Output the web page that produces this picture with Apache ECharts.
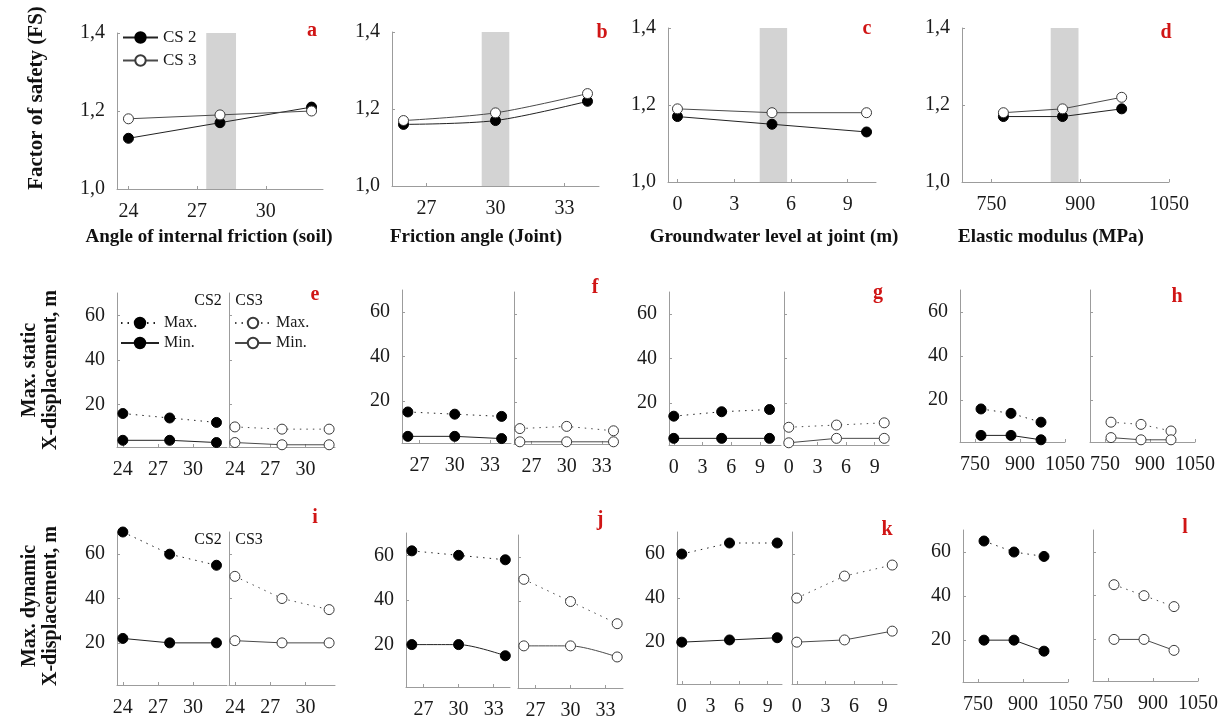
<!DOCTYPE html>
<html><head><meta charset="utf-8">
<script src="https://cdn.jsdelivr.net/npm/echarts@6/dist/echarts.min.js"></script>
<style>html,body{margin:0;padding:0;background:#fff}#c{width:1228px;height:719px}</style>
</head><body><div id="c"></div>
<script>
// ---------- data ----------
const xSoil = [24, 28, 32];
const xJoint = [26, 30, 34];
const xGw = [0, 5, 10];
const xMod = [770, 870, 970];

const ticksSoil = [24, 27, 30];
const ticksJoint = [27, 30, 33];
const ticksGw = [0, 3, 6, 9];
const ticksMod = [750, 900, 1050];
const fsTicks = [1.0, 1.2, 1.4];
const dispTicks = [20, 40, 60];

const bandSoil = [27.4, 28.7];
const bandJoint = [29.4, 30.6];
const bandGw = [4.35, 5.8];
const bandMod = [850, 897];

const fsSoilCS2 = [1.13, 1.17, 1.21];
const fsSoilCS3 = [1.18, 1.19, 1.20];
const fsJointCS2 = [1.16, 1.17, 1.22];
const fsJointCS3 = [1.17, 1.19, 1.24];
const fsGwCS2 = [1.17, 1.15, 1.13];
const fsGwCS3 = [1.19, 1.18, 1.18];
const fsModCS2 = [1.17, 1.17, 1.19];
const fsModCS3 = [1.18, 1.19, 1.22];

const stSoilCS2Max = [16, 14, 12];
const stSoilCS2Min = [4, 4, 3];
const stSoilCS3Max = [10, 9, 9];
const stSoilCS3Min = [3, 2, 2];
const stJointCS2Max = [15, 14, 13];
const stJointCS2Min = [4, 4, 3];
const stJointCS3Max = [8, 9, 7];
const stJointCS3Min = [2, 2, 2];
const stGwCS2Max = [14, 16, 17];
const stGwCS2Min = [4, 4, 4];
const stGwCS3Max = [9, 10, 11];
const stGwCS3Min = [2, 4, 4];
const stModCS2Max = [16, 14, 10];
const stModCS2Min = [4, 4, 2];
const stModCS3Max = [10, 9, 6];
const stModCS3Min = [3, 2, 2];

const dySoilCS2Max = [70, 60, 55];
const dySoilCS2Min = [22, 20, 20];
const dySoilCS3Max = [50, 40, 35];
const dySoilCS3Min = [21, 20, 20];
const dyJointCS2Max = [62, 60, 58];
const dyJointCS2Min = [20, 20, 15];
const dyJointCS3Max = [50, 40, 30];
const dyJointCS3Min = [20, 20, 15];
const dyGwCS2Max = [60, 65, 65];
const dyGwCS2Min = [20, 21, 22];
const dyGwCS3Max = [40, 50, 55];
const dyGwCS3Min = [20, 21, 25];
const dyModCS2Max = [65, 60, 58];
const dyModCS2Min = [20, 20, 15];
const dyModCS3Max = [45, 40, 35];
const dyModCS3Min = [20, 20, 15];

// ---------- layout ----------
const FONT = '"Liberation Serif","Times New Roman",serif';
const AXC = '#9c9c9c';
const RED = '#d01515';
const grids = [], xAxes = [], yAxes = [], series = [], legends = [], texts = [];

function addGrid(box, xr, xticks, yr, yticks, yfmt, showY) {
  const i = grids.length;
  grids.push({left: box[0], top: box[1], width: box[2], height: box[3], containLabel: false, outerBoundsMode: 'none'});
  xAxes.push({type: 'value', gridIndex: i, min: xr[0], max: xr[1],
    axisLine: {show: true, onZero: false, lineStyle: {color: AXC, width: 1}},
    axisTick: {show: true, inside: true, length: 3, customValues: xticks, lineStyle: {color: AXC}},
    axisLabel: {customValues: xticks, formatter: v => String(v), color: '#1a1a1a', fontFamily: FONT, fontSize: 20, margin: 13},
    splitLine: {show: false}});
  yAxes.push({type: 'value', gridIndex: i, min: yr[0], max: yr[1],
    axisLine: {show: true, onZero: false, lineStyle: {color: AXC, width: 1}},
    axisTick: {show: true, inside: true, length: 3, customValues: yticks, lineStyle: {color: AXC}},
    axisLabel: {show: showY, customValues: yticks, formatter: yfmt || (v => String(v)), color: '#1a1a1a', fontFamily: FONT, fontSize: 20, margin: 12},
    splitLine: {show: false}});
  return i;
}

function addLine(gi, name, xs, ys, filled, dotted, smooth) {
  series.push({type: 'line', name: name, xAxisIndex: gi, yAxisIndex: gi,
    data: xs.map((x, k) => [x, ys[k]]),
    symbol: 'circle', symbolSize: 10, showSymbol: true, smooth: smooth ? 0.3 : false, clip: false,
    lineStyle: {color: filled ? '#222' : '#4a4a4a', width: 1, type: dotted ? [1.5, 5] : 'solid'},
    itemStyle: {color: filled ? '#000' : '#fff', borderColor: filled ? '#000' : '#3a3a3a', borderWidth: 1},
    emphasis: {disabled: true}, z: filled ? 3 : 4, animation: false});
}

function addBand(gi, band, yr) {
  series.push({type: 'line', name: 'band' + gi, xAxisIndex: gi, yAxisIndex: gi, data: [], z: 1, animation: false,
    markArea: {silent: true, itemStyle: {color: '#d3d3d3'},
      data: [[{coord: [band[0], yr[0]]}, {coord: [band[1], yr[1]]}]]}});
}

function addText(x, y, text, opts) {
  texts.push(Object.assign({type: 'text', x: x, y: y, silent: true,
    style: Object.assign({text: text, fill: '#111', fontFamily: FONT, fontSize: 17, fontWeight: 'bold',
      align: 'center', verticalAlign: 'middle', textAlign: 'center', textVerticalAlign: 'middle'}, opts.style || {})},
    opts.rotation !== undefined ? {rotation: opts.rotation} : {}));
}

const fsFmt = v => v.toFixed(1).replace('.', ',');
const FSR = [1.0, 1.4];

// Row 1: factor of safety
const fsPanels = [
  {L: 'a', box: [117, 33, 206, 156], xr: [23.5, 32.5], xs: xSoil, ticks: ticksSoil, band: bandSoil, c2: fsSoilCS2, c3: fsSoilCS3, title: 'Angle of internal friction (soil)', tx: 209, lx: 312, ly: 31},
  {L: 'b', box: [392, 32, 207, 154], xr: [25.5, 34.5], xs: xJoint, ticks: ticksJoint, band: bandJoint, c2: fsJointCS2, c3: fsJointCS3, title: 'Friction angle (Joint)', tx: 476, lx: 602, ly: 33, smooth: true},
  {L: 'c', box: [668, 28, 208, 154], xr: [-0.5, 10.5], xs: xGw, ticks: ticksGw, band: bandGw, c2: fsGwCS2, c3: fsGwCS3, title: 'Groundwater level at joint (m)', tx: 774, lx: 867, ly: 29},
  {L: 'd', box: [962, 28, 207, 154], xr: [700, 1050], xs: xMod, ticks: ticksMod, band: bandMod, c2: fsModCS2, c3: fsModCS3, title: 'Elastic modulus (MPa)', tx: 1051, lx: 1166, ly: 33}
];
fsPanels.forEach((p, k) => {
  const gi = addGrid(p.box, p.xr, p.ticks, FSR, fsTicks, fsFmt, true);
  addBand(gi, p.band, FSR);
  addLine(gi, k === 0 ? 'CS 2' : p.L + ' CS 2', p.xs, p.c2, true, false, p.smooth);
  addLine(gi, k === 0 ? 'CS 3' : p.L + ' CS 3', p.xs, p.c3, false, false, p.smooth);
  addText(p.tx, 237, p.title, {style: {fontSize: 19}});
  addText(p.lx, p.ly, p.L, {style: {fill: RED, fontSize: 20}});
});

// Rows 2 & 3: displacements
const DR = [1, 70];
const dispPanels = [
  {L: 'e', b1: [117, 293, 110, 154], r1: [23.5, 32.9], b2: [229, 293, 106, 154], r2: [23.5, 32.5], xs: xSoil, ticks: ticksSoil, a: stSoilCS2Max, b: stSoilCS2Min, c: stSoilCS3Max, d: stSoilCS3Min, lx: 315, ly: 295},
  {L: 'f', b1: [402, 290, 109, 153], r1: [25.5, 34.8], b2: [514, 292, 103, 152], r2: [25.5, 34.3], xs: xJoint, ticks: ticksJoint, a: stJointCS2Max, b: stJointCS2Min, c: stJointCS3Max, d: stJointCS3Min, lx: 595, ly: 288},
  {L: 'g', b1: [669, 292, 112, 153], r1: [-0.5, 11.2], b2: [784, 292, 105, 153], r2: [-0.5, 10.5], xs: xGw, ticks: ticksGw, a: stGwCS2Max, b: stGwCS2Min, c: stGwCS3Max, d: stGwCS3Min, lx: 878, ly: 293},
  {L: 'h', b1: [960, 290, 105, 152], r1: [700, 1050], b2: [1090, 290, 105, 152], r2: [700, 1050], xs: xMod, ticks: ticksMod, a: stModCS2Max, b: stModCS2Min, c: stModCS3Max, d: stModCS3Min, lx: 1177, ly: 297},
  {L: 'i', b1: [117, 532, 110, 153], r1: [23.5, 32.9], b2: [229, 532, 106, 153], r2: [23.5, 32.5], xs: xSoil, ticks: ticksSoil, a: dySoilCS2Max, b: dySoilCS2Min, c: dySoilCS3Max, d: dySoilCS3Min, lx: 315, ly: 518},
  {L: 'j', b1: [406, 533, 104, 154], r1: [25.5, 34.4], b2: [518, 535, 105, 153], r2: [25.5, 34.5], xs: xJoint, ticks: ticksJoint, a: dyJointCS2Max, b: dyJointCS2Min, c: dyJointCS3Max, d: dyJointCS3Min, lx: 600, ly: 520, smooth: true},
  {L: 'k', b1: [677, 532, 105, 152], r1: [-0.5, 10.5], b2: [792, 532, 105, 152], r2: [-0.5, 10.5], xs: xGw, ticks: ticksGw, a: dyGwCS2Max, b: dyGwCS2Min, c: dyGwCS3Max, d: dyGwCS3Min, lx: 887, ly: 530},
  {L: 'l', b1: [963, 530, 105, 152], r1: [700, 1050], b2: [1093, 530, 105, 151], r2: [700, 1050], xs: xMod, ticks: ticksMod, a: dyModCS2Max, b: dyModCS2Min, c: dyModCS3Max, d: dyModCS3Min, lx: 1185, ly: 528}
];
dispPanels.forEach(p => {
  const g1 = addGrid(p.b1, p.r1, p.ticks, DR, dispTicks, null, true);
  addLine(g1, p.L + ' CS2 Max.', p.xs, p.a, true, true, p.smooth);
  addLine(g1, p.L + ' CS2 Min.', p.xs, p.b, true, false, p.smooth);
  const g2 = addGrid(p.b2, p.r2, p.ticks, DR, dispTicks, null, false);
  addLine(g2, p.L + ' CS3 Max.', p.xs, p.c, false, true, p.smooth);
  addLine(g2, p.L + ' CS3 Min.', p.xs, p.d, false, false, p.smooth);
  addText(p.lx, p.ly, p.L, {style: {fill: RED, fontSize: 20}});
});

// CS labels in e and i
[301, 540].forEach(y => {
  addText(208, y, 'CS2', {style: {fontWeight: 'normal', fontSize: 16}});
  addText(249, y, 'CS3', {style: {fontWeight: 'normal', fontSize: 16}});
});

// Row titles
addText(37, 98, 'Factor of safety (FS)', {rotation: Math.PI / 2, style: {fontSize: 21}});
addText(40, 370, 'Max. static\nX-displacement, m', {rotation: Math.PI / 2, style: {fontSize: 20, lineHeight: 21}});
addText(40, 606, 'Max. dynamic\nX-displacement, m', {rotation: Math.PI / 2, style: {fontSize: 20, lineHeight: 21}});

// Legends
const lastWord = n => n.split(' ').pop();
legends.push({orient: 'vertical', left: 122, top: 29, itemWidth: 35, itemHeight: 13, itemGap: 6, padding: 0,
  selectedMode: false, data: ['CS 2', 'CS 3'], textStyle: {fontFamily: FONT, fontSize: 17, color: '#1a1a1a'}});
legends.push({orient: 'vertical', left: 120, top: 315, itemWidth: 38, itemHeight: 13, itemGap: 4, padding: 0,
  selectedMode: false, data: ['e CS2 Max.', 'e CS2 Min.'], formatter: lastWord, textStyle: {fontFamily: FONT, fontSize: 16, color: '#1a1a1a'}});
legends.push({orient: 'vertical', left: 234, top: 315, itemWidth: 36, itemHeight: 13, itemGap: 4, padding: 0,
  selectedMode: false, data: ['e CS3 Max.', 'e CS3 Min.'], formatter: lastWord, textStyle: {fontFamily: FONT, fontSize: 16, color: '#1a1a1a'}});

const chart = echarts.init(document.getElementById('c'), null, {renderer: 'canvas', width: 1228, height: 719});
chart.setOption({
  backgroundColor: '#ffffff',
  animation: false,
  grid: grids, xAxis: xAxes, yAxis: yAxes, series: series, legend: legends,
  graphic: {elements: texts}
});
</script></body></html>
